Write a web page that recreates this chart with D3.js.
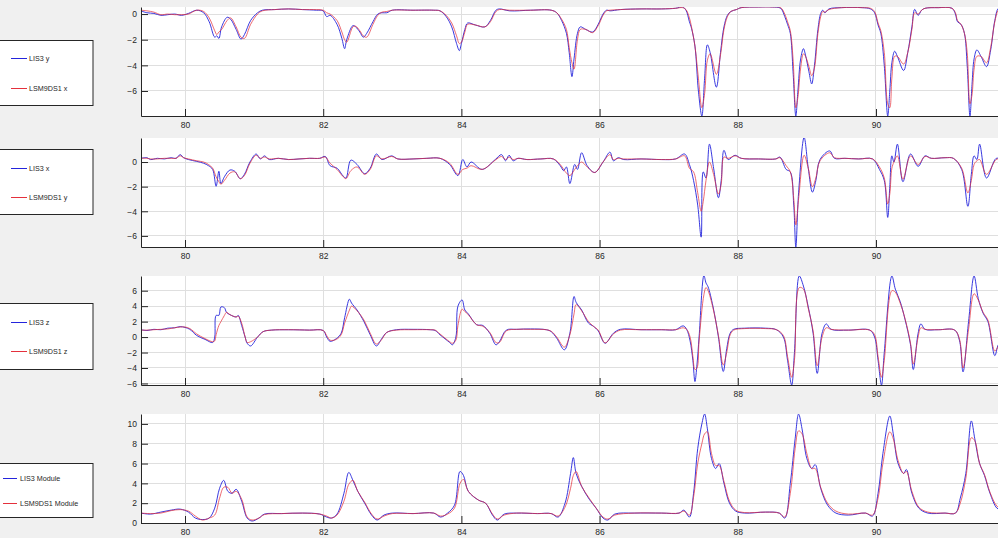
<!DOCTYPE html>
<html><head><meta charset="utf-8">
<script src="https://cdn.jsdelivr.net/npm/d3@7"></script>
<style>
html,body{margin:0;padding:0;background:#f0f0f0;overflow:hidden}
svg{display:block;font-family:"Liberation Sans",Arial,Helvetica,sans-serif}
</style></head><body>
<svg id="c" width="998" height="538"></svg>
<script>
// ---------- data ----------
const xTicks = [80, 82, 84, 86, 88, 90];

// Panel 1: LIS3 y vs LSM9DS1 x
const time1 = [79.36,79.45,79.55,79.65,79.75,79.85,79.95,80.05,80.17,80.27,80.35,80.43,80.46,80.49,80.53,80.61,80.66,80.74,80.81,80.86,80.95,81.05,81.12,81.3,81.5,81.7,81.9,82.0,82.05,82.1,82.2,82.27,82.31,82.34,82.43,82.47,82.53,82.58,82.63,82.72,82.79,82.85,82.92,83.0,83.3,83.6,83.69,83.78,83.86,83.93,83.97,84.0,84.05,84.09,84.2,84.34,84.42,84.5,84.55,84.7,85.0,85.3,85.38,85.45,85.52,85.56,85.6,85.63,85.68,85.72,85.8,85.9,85.98,86.05,86.1,86.15,86.3,86.6,86.9,87.1,87.2,87.25,87.3,87.33,87.38,87.43,87.48,87.52,87.56,87.6,87.69,87.75,87.8,87.85,87.9,87.98,88.05,88.3,88.5,88.62,88.68,88.72,88.76,88.8,88.84,88.87,88.91,88.95,88.98,89.03,89.07,89.11,89.16,89.2,89.23,89.26,89.32,89.5,89.8,89.92,89.98,90.03,90.07,90.12,90.17,90.2,90.23,90.27,90.31,90.4,90.46,90.52,90.56,90.61,90.66,90.71,90.9,91.1,91.15,91.18,91.23,91.28,91.32,91.36,91.39,91.42,91.46,91.52,91.6,91.66,91.72,91.77,91.82];
const lis3Y = [0.25,0.1,0.05,-0.1,-0.05,0.0,-0.1,0.05,0.3,0.1,-0.6,-1.8,-1.7,-1.9,-1.0,-0.25,-0.4,-1.2,-1.95,-1.6,-0.5,0.1,0.3,0.35,0.4,0.35,0.3,0.25,-0.2,-0.1,-0.8,-1.9,-2.7,-2.0,-0.9,-1.0,-1.4,-1.8,-1.5,-0.6,0.0,0.1,0.1,0.3,0.3,0.3,0.25,-0.2,-1.0,-2.3,-2.85,-2.3,-1.2,-0.7,-0.85,-1.0,-0.5,0.3,0.4,0.25,0.3,0.3,0.1,-0.5,-1.5,-3.0,-4.88,-3.5,-1.5,-1.0,-1.2,-1.4,-0.8,0.0,0.3,0.25,0.35,0.4,0.4,0.45,0.55,0.3,-0.6,-1.1,-2.5,-6.0,-7.95,-5.0,-2.4,-3.0,-5.7,-3.0,-1.0,-0.1,0.2,0.35,0.5,0.55,0.55,0.45,-0.2,-0.8,-1.5,-4.5,-7.95,-6.0,-3.5,-2.7,-3.2,-4.5,-5.45,-4.0,-1.2,0.05,0.3,0.1,0.4,0.5,0.5,0.4,0.1,-0.85,-1.5,-4.0,-7.95,-6.0,-3.8,-2.9,-3.3,-4.4,-3.0,-1.0,0.36,-0.1,0.3,0.45,0.5,0.45,0.0,-0.6,-0.8,-1.5,-4.0,-7.95,-5.5,-3.5,-2.8,-3.3,-4.1,-2.8,-0.5,0.44,0.5];
const lsmX = [0.3,0.25,0.15,-0.05,0.0,-0.05,-0.05,0.0,0.3,0.2,-0.3,-1.3,-1.6,-1.4,-1.2,-0.5,-0.3,-1.0,-1.8,-1.9,-0.8,0.0,0.25,0.35,0.4,0.35,0.35,0.3,0.1,0.0,-0.5,-1.4,-2.0,-2.2,-1.0,-0.95,-1.3,-1.7,-1.8,-0.8,-0.1,0.15,0.2,0.3,0.3,0.3,0.25,-0.1,-0.7,-1.7,-2.3,-2.2,-1.4,-0.8,-0.85,-1.0,-0.6,0.2,0.35,0.3,0.3,0.3,0.1,-0.4,-1.2,-2.6,-3.8,-4.3,-2.0,-1.2,-1.2,-1.45,-0.9,-0.1,0.25,0.3,0.35,0.4,0.4,0.45,0.5,0.35,-0.3,-1.0,-2.5,-5.0,-7.3,-6.2,-3.6,-3.1,-4.7,-3.2,-1.2,-0.2,0.2,0.35,0.5,0.55,0.55,0.5,0.0,-0.6,-1.3,-3.5,-7.3,-6.5,-4.2,-3.1,-3.3,-4.1,-4.8,-4.2,-1.5,-0.2,0.2,0.15,0.35,0.5,0.5,0.45,0.2,-0.7,-1.3,-3.0,-7.0,-7.3,-5.0,-3.3,-3.3,-3.9,-3.0,-1.2,0.1,0.0,0.3,0.45,0.5,0.45,0.1,-0.5,-0.8,-1.5,-3.0,-7.0,-6.3,-4.3,-3.3,-3.3,-3.8,-2.6,-0.6,0.3,0.45];

// Panel 2: LIS3 x vs LSM9DS1 y
const time2 = [79.36,79.45,79.5,79.6,79.7,79.8,79.87,79.93,79.98,80.05,80.17,80.27,80.34,80.4,80.45,80.49,80.52,80.57,80.65,80.72,80.8,80.86,80.94,81.03,81.09,81.15,81.22,81.35,81.5,81.65,81.8,81.95,82.03,82.1,82.2,82.29,82.33,82.4,82.49,82.6,82.68,82.77,82.85,82.99,83.08,83.3,83.5,83.69,83.83,83.95,84.02,84.08,84.14,84.3,84.49,84.58,84.64,84.69,84.75,84.82,84.95,85.15,85.33,85.43,85.48,85.52,85.57,85.64,85.68,85.74,85.82,85.93,86.05,86.15,86.2,86.27,86.35,86.6,86.9,87.1,87.23,87.3,87.36,87.42,87.47,87.5,87.54,87.59,87.65,87.72,87.76,87.8,87.86,87.96,88.05,88.3,88.55,88.61,88.7,88.76,88.81,88.84,88.88,88.96,89.02,89.08,89.13,89.19,89.33,89.4,89.55,89.75,89.95,90.05,90.12,90.17,90.2,90.23,90.26,90.31,90.39,90.5,90.61,90.71,90.8,91.0,91.12,91.24,91.33,91.38,91.42,91.46,91.5,91.6,91.74,91.82];
const lis3X = [0.3,0.35,0.2,0.3,0.25,0.35,0.3,0.6,0.35,0.2,0.05,-0.1,-0.3,-0.6,-1.97,-0.75,-1.75,-1.2,-0.65,-0.75,-1.36,-1.0,0.0,0.65,0.25,0.5,0.2,0.3,0.2,0.25,0.3,0.3,0.45,-0.3,-0.5,-1.15,-1.3,0.15,-0.2,-0.95,-0.5,0.65,0.2,0.5,0.25,0.25,0.3,0.3,-0.2,-1.1,0.2,-0.4,0.0,-0.6,0.2,0.6,0.1,0.55,0.1,0.3,0.2,0.25,0.25,-0.3,-0.7,-0.4,-1.75,-0.2,-0.6,0.75,-0.3,-0.85,0.0,0.8,0.1,0.35,0.2,0.25,0.2,0.25,0.65,-0.2,-1.5,-3.5,-6.1,-0.8,-1.3,1.45,-0.5,-2.9,-1.5,0.95,0.2,0.55,0.3,0.25,0.25,0.4,-0.6,-0.8,-3.5,-6.9,-2.5,2.0,-0.5,-2.45,-1.5,0.2,0.9,0.3,0.3,0.25,0.25,-0.6,-1.5,-4.5,-2.0,0.5,0.0,1.45,-1.6,0.65,-0.35,0.5,0.3,0.35,0.3,-0.6,-3.6,-1.0,0.5,0.2,1.45,-1.3,0.3,0.2];
const lsmY = [0.3,0.3,0.25,0.25,0.3,0.3,0.3,0.5,0.35,0.25,0.1,0.0,-0.2,-0.5,-1.2,-1.6,-1.8,-1.5,-0.9,-0.8,-1.35,-1.1,-0.1,0.55,0.3,0.4,0.25,0.3,0.2,0.25,0.3,0.3,0.4,-0.1,-0.6,-1.2,-1.35,-0.7,-0.4,-1.0,-0.6,0.5,0.25,0.45,0.25,0.25,0.3,0.3,-0.1,-1.0,-0.6,-0.5,-0.3,-0.6,0.15,0.45,0.2,0.4,0.2,0.3,0.2,0.25,0.25,-0.2,-0.6,-0.9,-1.1,-0.6,-0.3,0.0,-0.4,-0.85,0.0,0.6,0.2,0.3,0.25,0.25,0.2,0.25,0.5,-0.5,-0.8,-2.5,-4.0,-3.2,-1.5,0.0,-1.0,-2.6,-1.8,0.4,0.3,0.5,0.3,0.25,0.25,0.35,-0.3,-0.8,-3.0,-5.1,-3.0,0.55,-0.5,-2.0,-1.3,0.1,0.75,0.35,0.3,0.25,0.25,-0.4,-1.3,-3.4,-2.6,-0.5,0.0,0.5,-1.4,0.5,-0.2,0.45,0.3,0.35,0.3,-0.5,-2.5,-1.5,-0.2,0.1,0.2,-1.0,0.2,0.3];

// Panel 3: LIS3 z vs LSM9DS1 z
const time3 = [79.36,79.45,79.55,79.65,79.75,79.85,79.93,80.0,80.07,80.17,80.29,80.4,80.43,80.45,80.49,80.52,80.57,80.6,80.65,80.74,80.77,80.82,80.87,80.9,80.95,81.05,81.13,81.25,81.5,81.8,82.0,82.05,82.1,82.19,82.26,82.31,82.38,82.41,82.49,82.59,82.68,82.77,82.84,82.92,83.06,83.3,83.55,83.62,83.69,83.83,83.87,83.92,83.95,84.01,84.05,84.1,84.22,84.31,84.41,84.5,84.55,84.65,84.8,85.0,85.23,85.3,85.38,85.49,85.57,85.63,85.66,85.74,85.84,85.91,85.98,86.08,86.2,86.3,86.6,86.9,87.1,87.21,87.26,87.31,87.35,87.38,87.41,87.44,87.51,87.54,87.57,87.64,87.72,87.79,87.84,87.89,87.94,88.1,88.4,88.56,88.66,88.72,88.78,88.82,88.89,88.95,89.02,89.09,89.15,89.22,89.28,89.35,89.6,89.91,89.98,90.03,90.08,90.12,90.23,90.28,90.35,90.42,90.5,90.54,90.61,90.65,90.71,90.9,91.14,91.21,91.26,91.34,91.42,91.48,91.55,91.62,91.72,91.77,91.82];
const lis3Z = [0.95,0.85,1.0,0.95,1.15,1.2,1.35,1.25,1.0,0.2,-0.3,-0.7,0.0,2.8,2.8,3.9,3.8,3.2,2.9,2.6,2.8,1.5,0.0,-0.8,-1.15,0.0,0.7,0.9,0.95,0.9,0.85,0.0,-0.55,-0.2,0.5,2.5,4.9,4.4,3.5,2.0,0.3,-1.15,-0.3,0.6,0.95,1.0,0.95,0.85,0.3,-0.7,-1.0,0.0,4.0,4.8,3.5,3.0,1.6,1.5,0.5,-1.0,-0.6,0.9,1.0,1.05,0.95,0.7,-0.15,-1.65,0.5,5.25,4.5,3.5,1.8,1.4,0.8,-0.8,0.5,1.0,0.95,0.95,0.95,1.45,1.0,-0.5,-3.0,-5.75,-3.5,0.0,7.95,7.0,6.5,4.0,0.0,-4.45,-1.5,0.5,1.0,1.15,1.15,0.95,0.0,-3.0,-6.2,-2.0,7.9,6.6,3.9,0.5,-4.7,0.5,1.7,1.0,0.9,0.9,0.0,-3.0,-6.2,-2.0,7.9,6.2,4.6,2.3,-1.0,-4.2,0.5,1.7,1.0,0.95,0.9,-0.5,-4.5,2.0,7.9,5.0,3.1,2.0,-2.4,-1.0,-0.5];
const lsmZ = [0.9,0.9,0.95,1.0,1.05,1.2,1.3,1.3,1.1,0.4,-0.2,-0.6,-0.5,0.3,1.5,2.0,2.8,3.2,2.9,2.6,2.7,1.8,0.0,-0.7,-0.6,0.0,0.7,0.9,0.95,0.9,0.85,0.2,-0.4,-0.3,0.3,1.8,3.5,4.0,3.4,2.2,0.5,-0.9,-0.4,0.6,0.9,0.95,0.95,0.9,0.4,-0.6,-0.8,-0.4,1.5,3.6,3.3,2.9,1.6,1.4,0.6,-0.7,-0.7,0.8,1.0,1.0,0.95,0.75,0.0,-1.3,0.3,3.0,4.2,3.4,2.0,1.4,0.9,-0.75,0.4,0.9,0.95,0.95,0.95,1.2,1.0,0.0,-2.5,-4.2,-4.0,-0.5,5.5,6.4,6.0,3.8,0.2,-3.6,-2.0,0.3,0.9,1.1,1.1,0.95,0.2,-2.5,-5.2,-3.0,6.4,6.2,3.7,0.8,-3.7,0.0,1.2,1.0,0.9,0.9,0.3,-2.5,-5.2,-3.0,6.0,5.8,4.4,2.4,-0.8,-3.5,0.0,1.2,1.0,0.95,0.9,-0.3,-4.0,1.0,5.6,4.8,3.2,2.2,-1.8,-1.2,-0.6];

// Panel 4: modules
const time4 = [79.36,79.5,79.65,79.8,79.93,80.05,80.15,80.25,80.35,80.43,80.5,80.56,80.62,80.68,80.74,80.82,80.9,80.97,81.07,81.15,81.4,81.7,81.95,82.05,82.12,82.2,82.3,82.37,82.43,82.5,82.6,82.7,82.78,82.88,83.0,83.3,83.6,83.7,83.8,83.9,83.98,84.03,84.1,84.25,84.35,84.45,84.52,84.62,84.8,85.1,85.3,85.4,85.5,85.58,85.62,85.66,85.74,85.85,85.95,86.05,86.12,86.22,86.5,86.9,87.15,87.22,87.3,87.36,87.42,87.48,87.52,87.56,87.62,87.68,87.73,87.8,87.88,87.97,88.1,88.4,88.6,88.68,88.76,88.83,88.88,88.93,89.0,89.07,89.12,89.2,89.3,89.42,89.6,89.85,89.95,90.03,90.1,90.2,90.25,90.32,90.4,90.44,90.52,90.62,90.75,91.0,91.15,91.22,91.3,91.38,91.43,91.5,91.57,91.65,91.75,91.82];
const lis3Mod = [1.0,0.9,1.1,1.3,1.4,1.1,0.5,0.35,0.5,1.5,3.5,4.3,3.2,3.0,3.4,2.2,0.5,0.2,0.5,0.9,0.95,1.0,0.9,0.6,0.5,0.9,3.0,5.1,4.3,3.2,2.0,0.8,0.3,0.8,1.0,0.95,1.0,0.6,1.0,1.8,5.2,4.8,3.2,2.3,2.0,0.8,0.3,0.9,1.0,0.95,0.95,0.6,2.0,5.0,6.6,5.0,3.7,2.4,1.5,0.5,0.3,0.9,1.0,1.0,1.0,1.3,0.6,3.0,7.5,10.0,11.0,9.5,6.5,5.5,6.0,4.0,2.0,1.2,1.0,1.1,1.0,0.5,4.0,8.5,11.0,9.5,6.5,5.5,5.9,3.5,1.8,1.0,0.8,1.0,0.7,3.0,7.0,10.8,9.0,6.0,5.0,5.4,3.0,1.5,1.0,1.0,1.0,2.5,5.0,10.3,8.5,6.0,4.8,3.0,1.5,1.3];
const lsmMod = [1.0,0.95,1.0,1.25,1.35,1.2,0.7,0.3,0.5,0.8,2.5,3.6,3.6,3.0,3.2,2.4,0.6,0.3,0.5,0.85,0.95,1.0,0.9,0.7,0.5,0.8,2.2,3.9,4.3,3.2,2.1,0.9,0.4,0.7,0.95,0.95,1.0,0.7,0.9,1.5,4.0,4.4,3.2,2.3,2.0,0.9,0.4,0.8,1.0,0.95,0.95,0.7,1.6,3.5,4.8,5.2,3.7,2.5,1.5,0.6,0.4,0.8,1.0,1.0,1.0,1.2,0.8,2.6,6.0,8.0,9.0,9.2,7.0,5.8,5.8,4.2,2.2,1.3,1.05,1.1,1.0,0.6,3.0,7.5,9.3,9.0,7.0,5.5,5.5,3.6,2.0,1.2,0.9,1.0,0.8,2.5,6.0,9.2,8.5,6.3,5.0,5.2,3.2,1.6,1.1,1.0,1.0,2.0,4.5,8.6,8.3,6.0,4.9,3.1,1.7,1.4];

const panels = [
  {t: time1, a: lis3Y, b: lsmX, nameA: "LIS3 y", nameB: "LSM9DS1 x", yDom: [-7.95, 0.55], yTicks: [-6,-4,-2,0]},
  {t: time2, a: lis3X, b: lsmY, nameA: "LIS3 x", nameB: "LSM9DS1 y", yDom: [-6.9, 1.95], yTicks: [-6,-4,-2,0]},
  {t: time3, a: lis3Z, b: lsmZ, nameA: "LIS3 z", nameB: "LSM9DS1 z", yDom: [-6.2, 7.9], yTicks: [-6,-4,-2,0,2,4,6]},
  {t: time4, a: lis3Mod, b: lsmMod, nameA: "LIS3 Module", nameB: "LSM9DS1 Module", yDom: [0, 11.0], yTicks: [0,2,4,6,8,10]}
];

// ---------- layout ----------
const layout = [
  {top: 7,   bottom: 116, box: [40, 105],  e: [58, 88],   lx: [11, 27], tx: 29},
  {top: 138, bottom: 247, box: [149, 214], e: [168, 197], lx: [11, 27], tx: 29},
  {top: 276, bottom: 385, box: [303, 369], e: [322, 351], lx: [11, 27], tx: 29},
  {top: 414, bottom: 523, box: [463, 517], e: [478, 503], lx: [3, 17],  tx: 20}
];
const X0 = 141, X1 = 998;
const colA = "#2424dc", colB = "#e4303c";

const svg = d3.select("#c");
const x = d3.scaleLinear().domain([79.363, 91.766]).range([X0, X1]);

panels.forEach((p, i) => {
  const L = layout[i];
  const y = d3.scaleLinear().domain(p.yDom).range([L.bottom, L.top]);
  const g = svg.append("g");

  g.append("rect").attr("x", X0).attr("y", L.top).attr("width", X1 - X0).attr("height", L.bottom - L.top).attr("fill", "#ffffff");

  // grid
  g.append("g").selectAll("line").data(xTicks).join("line")
    .attr("x1", d => x(d)).attr("x2", d => x(d)).attr("y1", L.top).attr("y2", L.bottom)
    .attr("stroke", "#dfdfdf").attr("stroke-width", 1).attr("shape-rendering", "crispEdges");
  g.append("g").selectAll("line").data(p.yTicks).join("line")
    .attr("x1", X0).attr("x2", X1).attr("y1", d => y(d)).attr("y2", d => y(d))
    .attr("stroke", "#dfdfdf").attr("stroke-width", 1).attr("shape-rendering", "crispEdges");

  // lines
  const clipId = "clip" + i;
  svg.append("clipPath").attr("id", clipId).append("rect")
    .attr("x", X0).attr("y", L.top).attr("width", X1 - X0).attr("height", L.bottom - L.top);
  const lineGen = vals => d3.line().x((d, k) => x(p.t[k])).y(d => y(d)).curve(d3.curveCatmullRom.alpha(0.5))(vals);
  const lg = g.append("g").attr("clip-path", `url(#${clipId})`);
  lg.append("path").attr("d", lineGen(p.a)).attr("fill", "none").attr("stroke", colA).attr("stroke-width", 1).attr("stroke-opacity", 0.9);
  lg.append("path").attr("d", lineGen(p.b)).attr("fill", "none").attr("stroke", colB).attr("stroke-width", 1).attr("stroke-opacity", 0.72);

  // axes
  const ya = d3.axisLeft(y).tickValues(p.yTicks).tickSizeInner(-7).tickSizeOuter(0).tickPadding(4).tickFormat(d3.format("d"));
  const yg = g.append("g").attr("transform", `translate(${X0},0)`).call(ya);
  const xa = d3.axisBottom(x).tickValues(xTicks).tickSizeInner(-7).tickSizeOuter(0).tickPadding(6).tickFormat(d3.format("d"));
  const xg = g.append("g").attr("transform", `translate(0,${L.bottom})`).call(xa);
  [yg, xg].forEach(a => {
    a.select(".domain").attr("stroke", "#262626").attr("stroke-width", 1);
    a.selectAll(".tick line").attr("stroke", "#262626");
    a.selectAll(".tick text").attr("fill", "#262626").attr("font-size", "8.5px").attr("font-family", '"Liberation Sans",Arial,sans-serif');
  });

  // legend
  const lgd = svg.append("g");
  lgd.append("rect").attr("x", -1).attr("y", L.box[0] + 0.5).attr("width", 94).attr("height", L.box[1] - L.box[0])
    .attr("fill", "#ffffff").attr("stroke", "#262626").attr("stroke-width", 1);
  [[p.nameA, colA, L.e[0]], [p.nameB, colB, L.e[1]]].forEach(([name, col, ey]) => {
    lgd.append("line").attr("x1", L.lx[0]).attr("x2", L.lx[1]).attr("y1", ey + 0.5).attr("y2", ey + 0.5)
      .attr("stroke", col).attr("stroke-width", 1);
    lgd.append("text").attr("x", L.tx).attr("y", ey).attr("dy", "0.35em")
      .attr("font-size", "7.2px").attr("fill", "#262626").text(name);
  });
});
</script>
</body></html>
